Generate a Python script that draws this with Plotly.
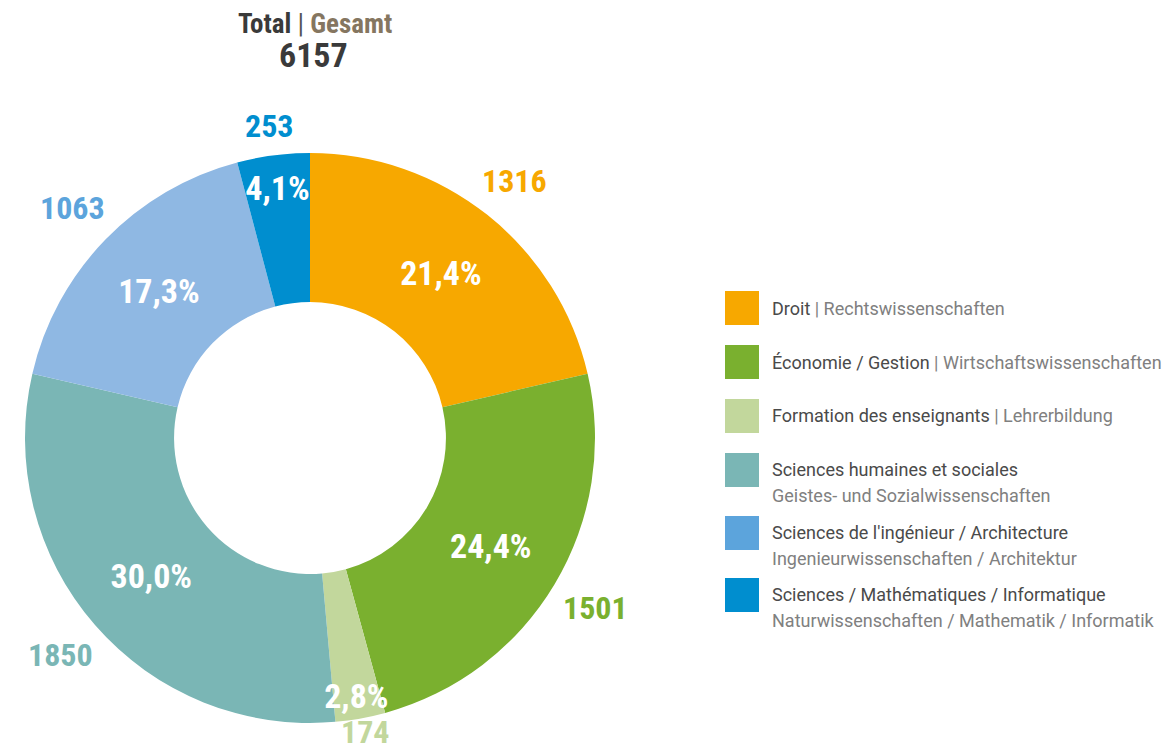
import math
import plotly.graph_objects as go

# ---- data ----
labels_fr = ["Droit", "Économie / Gestion", "Formation des enseignants",
             "Sciences humaines et sociales", "Sciences de l'ingénieur / Architecture",
             "Sciences / Mathématiques / Informatique"]
labels_de = ["Rechtswissenschaften", "Wirtschaftswissenschaften", "Lehrerbildung",
             "Geistes- und Sozialwissenschaften", "Ingenieurwissenschaften / Architektur",
             "Naturwissenschaften / Mathematik / Informatik"]
values = [1316, 1501, 174, 1850, 1063, 253]
total = 6157
legend_two_lines = [False, False, False, True, True, True]

slice_colors = ["#F7A800", "#7AB02F", "#C2D79C", "#7AB6B5", "#8FB8E3", "#008ECF"]
label_colors = ["#F7A800", "#7AB02F", "#C2D79C", "#7AB6B5", "#5CA4DC", "#008ECF"]
legend_colors = ["#F7A800", "#7AB02F", "#C2D79C", "#7AB6B5", "#5CA4DC", "#008ECF"]

W, H = 1168, 751
NARROW = "Roboto Condensed, Noto Sans Condensed, DejaVu Sans Condensed, sans-serif"
REG = "Roboto, Liberation Sans, Arial, sans-serif"

# pie box in pixels
cx, cy, R = 310, 438, 285
dom_x = [(cx - R) / W, (cx + R) / W]
dom_y = [1 - (cy + R) / H, 1 - (cy - R) / H]
HOLE = 0.477

common = dict(values=values, labels=labels_fr, sort=False, direction="clockwise",
              rotation=0, hole=HOLE, domain=dict(x=dom_x, y=dom_y), showlegend=False)
clear = ["rgba(0,0,0,0)"] * len(values)

fig = go.Figure()
# coloured ring
fig.add_trace(go.Pie(**common, marker=dict(colors=slice_colors, line=dict(width=0)),
                     textinfo="none", hoverinfo="label+value+percent"))
# percentages (on a transparent copy so no slice covers them)
fig.add_trace(go.Pie(**common, marker=dict(colors=clear, line=dict(width=0)),
                     texttemplate="%{percent:.1%}", textposition="inside",
                     insidetextorientation="horizontal",
                     insidetextfont=dict(family=NARROW, size=34, color="white",
                                         weight="bold"),
                     hoverinfo="skip"))

# absolute values outside the ring, centred on each slice's mid-angle
VAL_SIZE = 32
cum = 0
for v, col in zip(values, label_colors):
    frac = (cum + v / 2) / sum(values)
    cum += v
    th = 2 * math.pi * frac
    dx, dy = math.sin(th), -math.cos(th)
    w = 0.48 * VAL_SIZE * len(str(v))
    h = 24
    r = R + 15 + abs(dx) * w / 2 + abs(dy) * h / 2
    px, py = cx + r * dx, cy + r * dy
    py = min(py, H - 19)
    fig.add_annotation(x=px / W, y=1 - py / H, xref="paper", yref="paper",
                       xanchor="center", yanchor="middle", showarrow=False,
                       text=f"<b>{v}</b>",
                       font=dict(family=NARROW, size=VAL_SIZE, color=col))

# title
fig.add_annotation(
    x=315 / W, y=1 - 24 / H, xref="paper", yref="paper", showarrow=False,
    xanchor="center", yanchor="middle",
    text=("<b>Total</b> <span style='color:#555'>|</span> "
          "<b><span style='color:#857660'>Gesamt</span></b>"),
    font=dict(family=NARROW, size=27, color="#3a3a3a"))
fig.add_annotation(
    x=313 / W, y=1 - 55 / H, xref="paper", yref="paper", showarrow=False,
    xanchor="center", yanchor="middle",
    text=f"<b>{total}</b>",
    font=dict(family=NARROW, size=34, color="#3a3a3a"))

# custom legend
sw_top = [291, 345, 399, 453, 516, 578]
for i, (fr, de) in enumerate(zip(labels_fr, labels_de)):
    t = sw_top[i]
    fig.add_shape(type="rect", xref="paper", yref="paper",
                  x0=725 / W, x1=759 / W, y0=1 - (t + 34) / H, y1=1 - t / H,
                  fillcolor=legend_colors[i], line=dict(width=0))
    if legend_two_lines[i]:
        fig.add_annotation(x=770 / W, y=1 - (t + 16) / H, xref="paper", yref="paper",
                           xanchor="left", yanchor="middle", showarrow=False,
                           text=fr, font=dict(family=REG, size=18, color="#4a4a4a"))
        fig.add_annotation(x=770 / W, y=1 - (t + 42) / H, xref="paper", yref="paper",
                           xanchor="left", yanchor="middle", showarrow=False,
                           text=de, font=dict(family=REG, size=18, color="#808080"))
    else:
        fig.add_annotation(x=770 / W, y=1 - (t + 17) / H, xref="paper", yref="paper",
                           xanchor="left", yanchor="middle", showarrow=False,
                           text=f"{fr} <span style='color:#808080'>| {de}</span>",
                           font=dict(family=REG, size=18, color="#4a4a4a"))

fig.update_layout(
    width=W, height=H, margin=dict(l=0, r=0, t=0, b=0),
    paper_bgcolor="white", plot_bgcolor="white",
    separators=",.",
    uniformtext=dict(minsize=34, mode="show"),
)
fig.write_html(
    "out.html",
    config={"displayModeBar": False},
    post_script=("document.body.style.margin='0';"
                 "document.body.style.overflow='hidden';"
                 "document.documentElement.style.overflow='hidden';"),
)
